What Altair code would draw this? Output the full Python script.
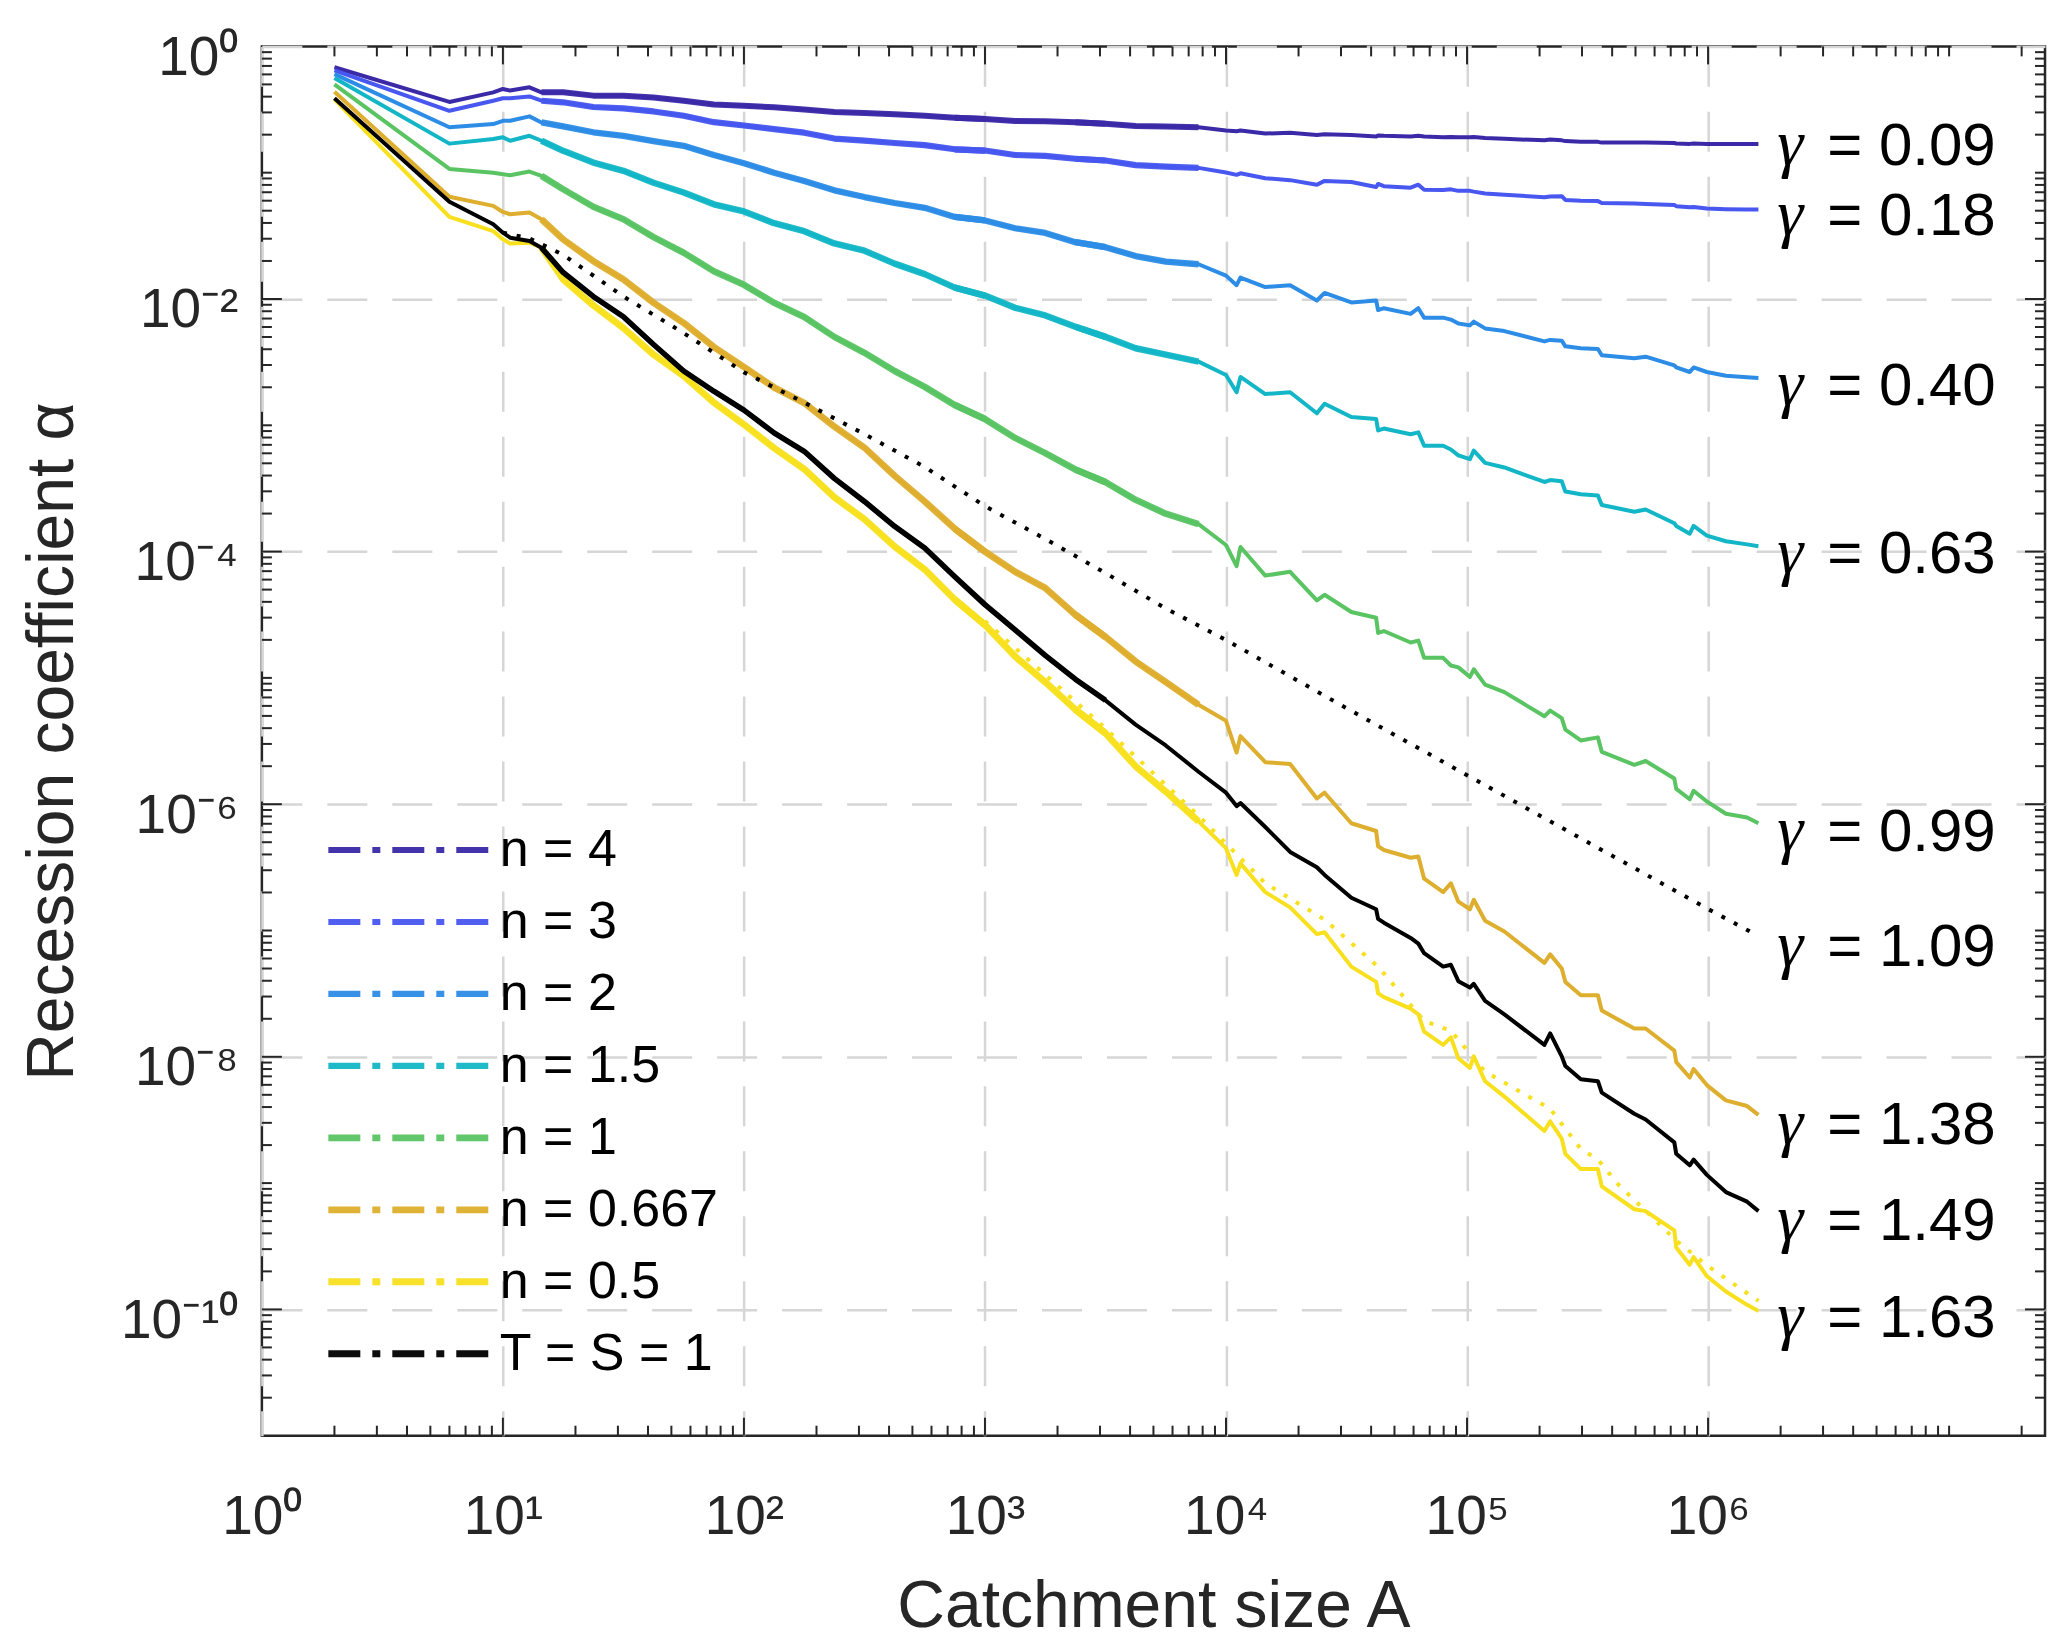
import altair as alt
import pandas as pd

# ---------------- data (log10 units) ----------------
# catchment size A, as log10(A)
la_grid = [0.301, 0.778, 0.96, 1.0, 1.03, 1.11, 1.16,
           1.25, 1.375, 1.5, 1.625, 1.75, 1.875, 2.0, 2.125, 2.25, 2.375, 2.5,
           2.625, 2.75, 2.875, 3.0, 3.125, 3.25, 3.375, 3.5, 3.625, 3.75,
           3.886, 4.0, 4.044, 4.06, 4.163, 4.266, 4.377, 4.409, 4.52, 4.623,
           4.631, 4.655, 4.766, 4.798, 4.822, 4.901, 4.933, 4.964, 5.012, 5.028,
           5.075, 5.155, 5.321, 5.345, 5.393, 5.408, 5.472, 5.543, 5.559, 5.694,
           5.741, 5.86, 5.868, 5.924, 5.94, 5.995, 6.074, 6.162, 6.209]

series_names = ["n = 4", "n = 3", "n = 2", "n = 1.5", "n = 1", "n = 0.667", "n = 0.5", "T = S = 1"]
series_colors = ["#3b2aa8", "#4757ef", "#2d8de6", "#13b6c6", "#5ac463", "#deae2e", "#f8e01f", "#000000"]

# recession coefficient alpha, as log10(alpha)
la_n4 = [-0.165, -0.44, -0.364, -0.337, -0.35, -0.324, -0.364,
         -0.364, -0.39, -0.390, -0.405, -0.430, -0.46, -0.470, -0.482, -0.499, -0.52, -0.527,
         -0.537, -0.550, -0.565, -0.575, -0.590, -0.592, -0.600, -0.612, -0.63, -0.635,
         -0.641, -0.666, -0.672, -0.666, -0.690, -0.684, -0.702, -0.696, -0.702, -0.714,
         -0.705, -0.708, -0.714, -0.708, -0.714, -0.720, -0.717, -0.720, -0.720, -0.717,
         -0.726, -0.732, -0.744, -0.738, -0.744, -0.750, -0.756, -0.756, -0.762, -0.762,
         -0.762, -0.765, -0.769, -0.772, -0.769, -0.772, -0.772, -0.772, -0.772]
la_n3 = [-0.19, -0.51, -0.430, -0.411, -0.411, -0.396, -0.430,
         -0.443, -0.48, -0.491, -0.515, -0.549, -0.60, -0.626, -0.655, -0.683, -0.73, -0.746,
         -0.765, -0.782, -0.815, -0.825, -0.86, -0.867, -0.89, -0.904, -0.94, -0.952,
         -0.962, -0.998, -1.017, -1.005, -1.044, -1.059, -1.095, -1.065, -1.074, -1.113,
         -1.089, -1.107, -1.119, -1.095, -1.135, -1.138, -1.132, -1.144, -1.144, -1.150,
         -1.165, -1.174, -1.195, -1.189, -1.186, -1.216, -1.222, -1.225, -1.240, -1.244,
         -1.247, -1.256, -1.265, -1.274, -1.271, -1.283, -1.289, -1.292, -1.292]
la_n2 = [-0.22, -0.64, -0.615, -0.589, -0.589, -0.554, -0.602,
         -0.634, -0.68, -0.708, -0.75, -0.787, -0.86, -0.925, -1.0, -1.066, -1.14, -1.193,
         -1.24, -1.278, -1.35, -1.378, -1.44, -1.477, -1.55, -1.590, -1.66, -1.704,
         -1.725, -1.815, -1.891, -1.831, -1.906, -1.891, -2.012, -1.952, -2.027, -2.012,
         -2.088, -2.073, -2.118, -2.073, -2.148, -2.148, -2.163, -2.194, -2.209, -2.179,
         -2.233, -2.254, -2.336, -2.324, -2.330, -2.375, -2.390, -2.396, -2.445, -2.469,
         -2.457, -2.526, -2.542, -2.578, -2.542, -2.578, -2.608, -2.620, -2.626]
la_n15 = [-0.25, -0.77, -0.734, -0.720, -0.747, -0.708, -0.747,
          -0.827, -0.92, -0.985, -1.08, -1.157, -1.25, -1.307, -1.40, -1.463, -1.56, -1.618,
          -1.72, -1.803, -1.91, -1.973, -2.07, -2.13, -2.22, -2.30, -2.39, -2.44,
          -2.496, -2.602, -2.738, -2.617, -2.753, -2.738, -2.905, -2.829, -2.935, -2.950,
          -3.041, -3.026, -3.071, -3.056, -3.162, -3.162, -3.192, -3.238, -3.268, -3.201,
          -3.298, -3.334, -3.449, -3.434, -3.443, -3.525, -3.546, -3.555, -3.631, -3.685,
          -3.667, -3.776, -3.797, -3.858, -3.797, -3.873, -3.918, -3.943, -3.958]
la_n1 = [-0.30, -0.97, -1.0, -1.012, -1.02, -0.991, -1.025,
         -1.131, -1.27, -1.369, -1.51, -1.634, -1.78, -1.888, -2.03, -2.143, -2.30, -2.426,
         -2.57, -2.696, -2.84, -2.951, -3.10, -3.220, -3.35, -3.45, -3.59, -3.70,
         -3.782, -3.948, -4.115, -3.964, -4.190, -4.160, -4.387, -4.342, -4.478, -4.524,
         -4.644, -4.629, -4.720, -4.705, -4.841, -4.841, -4.902, -4.917, -4.992, -4.932,
         -5.053, -5.113, -5.304, -5.259, -5.319, -5.410, -5.495, -5.471, -5.585, -5.688,
         -5.658, -5.797, -5.879, -5.961, -5.894, -5.979, -6.076, -6.106, -6.151]
la_n0667 = [-0.36, -1.19, -1.263, -1.311, -1.329, -1.316, -1.369,
            -1.528, -1.70, -1.845, -2.03, -2.19, -2.38, -2.539, -2.70, -2.823, -3.01, -3.177,
            -3.40, -3.603, -3.82, -4.0, -4.16, -4.288, -4.50, -4.676, -4.87, -5.033,
            -5.213, -5.340, -5.591, -5.461, -5.667, -5.682, -5.955, -5.909, -6.151, -6.212,
            -6.333, -6.363, -6.424, -6.414, -6.590, -6.696, -6.626, -6.772, -6.832, -6.757,
            -6.923, -7.008, -7.256, -7.189, -7.301, -7.407, -7.513, -7.513, -7.634, -7.776,
            -7.776, -7.951, -8.042, -8.164, -8.097, -8.224, -8.345, -8.390, -8.460]
la_n05 = [-0.42, -1.35, -1.462, -1.528, -1.56, -1.554, -1.594,
          -1.845, -2.05, -2.23, -2.44, -2.61, -2.82, -2.993, -3.18, -3.347, -3.57, -3.744,
          -3.96, -4.141, -4.38, -4.58, -4.83, -5.033, -5.25, -5.438, -5.70, -5.90,
          -6.136, -6.348, -6.560, -6.469, -6.696, -6.817, -7.029, -7.014, -7.286, -7.407,
          -7.498, -7.528, -7.619, -7.664, -7.800, -7.906, -7.846, -8.012, -8.088, -7.997,
          -8.194, -8.315, -8.587, -8.511, -8.648, -8.769, -8.889, -8.889, -9.026, -9.207,
          -9.222, -9.374, -9.510, -9.646, -9.586, -9.737, -9.858, -9.964, -10.012]
la_ts1 = [-0.41, -1.23, -1.409, -1.475, -1.515, -1.541, -1.594,
          -1.79, -1.98, -2.14, -2.36, -2.57, -2.73, -2.88, -3.06, -3.206, -3.42, -3.603,
          -3.80, -3.971, -4.20, -4.42, -4.62, -4.822, -5.01, -5.178, -5.37, -5.535,
          -5.743, -5.909, -6.015, -5.991, -6.181, -6.378, -6.499, -6.560, -6.741, -6.832,
          -6.908, -6.938, -7.059, -7.104, -7.180, -7.286, -7.271, -7.401, -7.452, -7.422,
          -7.558, -7.664, -7.906, -7.815, -7.997, -8.073, -8.178, -8.193, -8.284, -8.451,
          -8.496, -8.678, -8.768, -8.859, -8.814, -8.935, -9.071, -9.147, -9.222]

# black dotted curve (gamma = 1.09)
dot_black_la = [1.0, 1.11, 1.25, 1.5, 1.75, 2.0, 2.25, 2.5, 2.75, 3.0, 3.25, 3.5, 3.75,
                4.0, 4.5, 5.0, 5.5, 6.0, 6.209]
dot_black_v = [-1.475, -1.52, -1.65, -1.98, -2.27, -2.58, -2.82, -3.07, -3.33, -3.64,
               -3.90, -4.17, -4.45, -4.70, -5.24, -5.77, -6.30, -6.83, -7.044]
# yellow dotted curve
dot_yel_la = [3.0, 3.5, 3.886, 4.163, 4.409, 4.631, 4.822, 4.933, 5.075, 5.345, 5.472,
              5.543, 5.63, 5.868, 5.995, 6.209]
dot_yel_v = [-4.55, -5.40, -6.091, -6.626, -6.914, -7.286, -7.716, -7.794, -8.118, -8.412,
             -8.729, -8.814, -9.016, -9.455, -9.652, -9.933]

# gamma annotations
gamma_text = ["= 0.09", "= 0.18", "= 0.40", "= 0.63", "= 0.99", "= 1.09", "= 1.38", "= 1.49", "= 1.63"]
gamma_v = [-0.937, -1.492, -2.837, -4.171, -6.369, -7.282, -8.687, -9.449, -10.22]
gamma_la = 6.287

xtick_vals = [1, 10, 100, 1e3, 1e4, 1e5, 1e6]
xtick_labels = ["10⁰", "10¹", "10²", "10³", "10⁴", "10⁵", "10⁶"]
ytick_vals = [1, 1e-2, 1e-4, 1e-6, 1e-8, 1e-10]
ytick_labels = ["10⁰", "10⁻²", "10⁻⁴", "10⁻⁶", "10⁻⁸", "10⁻¹⁰"]

# ---------------- tables ----------------
all_vals = [la_n4, la_n3, la_n2, la_n15, la_n1, la_n0667, la_n05, la_ts1]
rows = []
for name, vals in zip(series_names, all_vals):
    assert len(vals) == len(la_grid), (name, len(vals))
    for la, v in zip(la_grid, vals):
        rows.append({"series": name, "la": la, "A": 10 ** la, "alpha": 10 ** v})
df = pd.DataFrame(rows)

df_dotb = pd.DataFrame({"A": [10 ** v for v in dot_black_la], "alpha": [10 ** v for v in dot_black_v]})
df_doty = pd.DataFrame({"A": [10 ** v for v in dot_yel_la], "alpha": [10 ** v for v in dot_yel_v]})
df_gam = pd.DataFrame({"A": [10 ** gamma_la] * len(gamma_text),
                       "alpha": [10 ** v for v in gamma_v],
                       "txt": gamma_text, "g": ["γ"] * len(gamma_text)})

x_major = [10.0 ** k for k in range(1, 7)]
x_minor = [m * 10.0 ** k for k in range(0, 7) for m in range(2, 10)] + [1e7, 2e7]
y_major = [10.0 ** -k for k in (2, 4, 6, 8, 10)]
y_minor = [m * 10.0 ** k for k in range(-11, 0) for m in range(1, 10)
           if not (m == 1 and (-k) % 2 == 0) and m * 10.0 ** k > 1e-11]
df_xmaj = pd.DataFrame({"A": x_major})
df_xmin = pd.DataFrame({"A": x_minor})
df_ymaj = pd.DataFrame({"alpha": y_major})
df_ymin = pd.DataFrame({"alpha": y_minor})

# ---------------- chart ----------------
W, H = 1784, 1390
FONT = "Liberation Sans"
AX = "#262626"

xs = alt.Scale(type="log", domain=[1, 2.5e7], nice=False)
ys = alt.Scale(type="log", domain=[1e-11, 1], nice=False)

x_expr = "[" + ",".join("'%s'" % t for t in xtick_labels) + "][round(log(datum.value)/LN10)]"
y_expr = "[" + ",".join("'%s'" % t for t in ytick_labels) + "][round(-log(datum.value)/LN10/2)]"

xaxis = alt.Axis(values=xtick_vals, labelExpr=x_expr, title="Catchment size A",
                 grid=True, gridColor="#d6d6d6", gridDash=[40, 25], gridWidth=2.5,
                 ticks=False, domain=False, labelFont=FONT, labelFontSize=55,
                 labelColor=AX, labelPadding=98, labelBaseline="alphabetic",
                 labelFlush=False, labelOverlap=False,
                 titleFont=FONT, titleFontSize=66, titleFontWeight="normal",
                 titleColor=AX, titleY=191, titleBaseline="alphabetic")
yaxis = alt.Axis(values=ytick_vals, labelExpr=y_expr, title="Recession coefficient α",
                 grid=True, gridColor="#d6d6d6", gridDash=[40, 25], gridWidth=2.5,
                 ticks=False, domain=False, labelFont=FONT, labelFontSize=55,
                 labelColor=AX, labelPadding=24, labelBaseline="alphabetic",
                 labelOffset=28, labelFlush=False, labelOverlap=False,
                 titleFont=FONT, titleFontSize=66, titleFontWeight="normal",
                 titleColor=AX, titleX=-189, titleBaseline="alphabetic", titleAngle=270)

X = alt.X("A:Q", scale=xs, axis=xaxis)
Y = alt.Y("alpha:Q", scale=ys, axis=yaxis)

legend = alt.Legend(orient="none", legendX=63, legendY=778, title=None,
                    symbolType="stroke", symbolSize=26896, symbolStrokeWidth=4,
                    symbolDash=[32, 12, 8, 12], clipHeight=52, rowPadding=20,
                    labelFont=FONT, labelFontSize=52, labelColor="black",
                    labelOffset=4, labelLimit=600, padding=0)

color = alt.Color("series:N", scale=alt.Scale(domain=series_names, range=series_colors), legend=legend)
bw1 = alt.Scale(domain=series_names, range=[6, 7, 8, 8, 9, 10, 10, 6])
bw2 = alt.Scale(domain=series_names, range=[5.5, 6, 7, 7, 8, 8, 8, 5])
bw3 = alt.Scale(domain=series_names, range=[5, 5, 5.5, 5.5, 6, 6, 6, 5])

base = alt.Chart(df)


def band_layer(lo, hi, sc):
    return base.transform_filter(
        "datum.la >= %s && datum.la <= %s && datum.series != 'T = S = 1'" % (lo, hi)
    ).mark_line(strokeJoin="round", opacity=0.95).encode(
        x=X, y=Y, color=color,
        strokeWidth=alt.StrokeWidth("series:N", scale=sc, legend=None),
    )


band_a = band_layer(1.15, 3.0, bw1)
band_b = band_layer(2.875, 3.5, bw2)
band_c = band_layer(3.375, 3.9, bw3)

lines = base.transform_filter("datum.series != 'T = S = 1'").mark_line(
    strokeWidth=4, strokeJoin="round").encode(x=X, y=Y, color=color)

black_band = base.transform_filter(
    "datum.la >= 1.15 && datum.la <= 3.6 && datum.series == 'T = S = 1'"
).mark_line(strokeWidth=5.5, color="black", strokeJoin="round").encode(x=X, y=Y)

black_line = base.transform_filter("datum.series == 'T = S = 1'").mark_line(
    strokeWidth=4, strokeJoin="round").encode(x=X, y=Y, color=color)

dot_b = alt.Chart(df_dotb).mark_line(color="black", strokeWidth=4, strokeDash=[4, 10]).encode(x=X, y=Y)
dot_y = alt.Chart(df_doty).mark_line(color="#f8e01f", strokeWidth=4, strokeDash=[4, 10]).encode(x=X, y=Y)

g_sym = alt.Chart(df_gam).mark_text(align="left", baseline="alphabetic", font="Liberation Serif",
                                     fontStyle="italic", fontSize=66, color="black").encode(
    x=X, y=Y, text="g:N")
g_txt = alt.Chart(df_gam).mark_text(align="left", baseline="alphabetic", font=FONT,
                                     fontSize=60, color="black", dx=50).encode(
    x=X, y=Y, text="txt:N")


def tick_layers():
    out = []
    for dfx, L in ((df_xmaj, 18), (df_xmin, 10)):
        out.append(alt.Chart(dfx).mark_rule(color=AX, strokeWidth=2).encode(
            x=X, y=alt.value(H), y2=alt.value(H - L)))
        out.append(alt.Chart(dfx).mark_rule(color=AX, strokeWidth=2).encode(
            x=X, y=alt.value(0), y2=alt.value(L)))
    for dfy, L in ((df_ymaj, 20), (df_ymin, 10)):
        out.append(alt.Chart(dfy).mark_rule(color=AX, strokeWidth=2).encode(
            y=Y, x=alt.value(0), x2=alt.value(L)))
        out.append(alt.Chart(dfy).mark_rule(color=AX, strokeWidth=2).encode(
            y=Y, x=alt.value(W), x2=alt.value(W - L)))
    return out


chart = alt.layer(
    lines, band_a, band_b, band_c, black_band, black_line, dot_b, dot_y, g_sym, g_txt,
    *tick_layers()
).properties(
    width=W, height=H,
    padding={"left": 254, "top": 38, "right": 14, "bottom": 206},
    autosize=alt.AutoSizeParams(type="none"),
).configure_view(stroke=AX, strokeWidth=2.5)

chart.save("out.html", embed_options={"renderer": "svg", "actions": False})
